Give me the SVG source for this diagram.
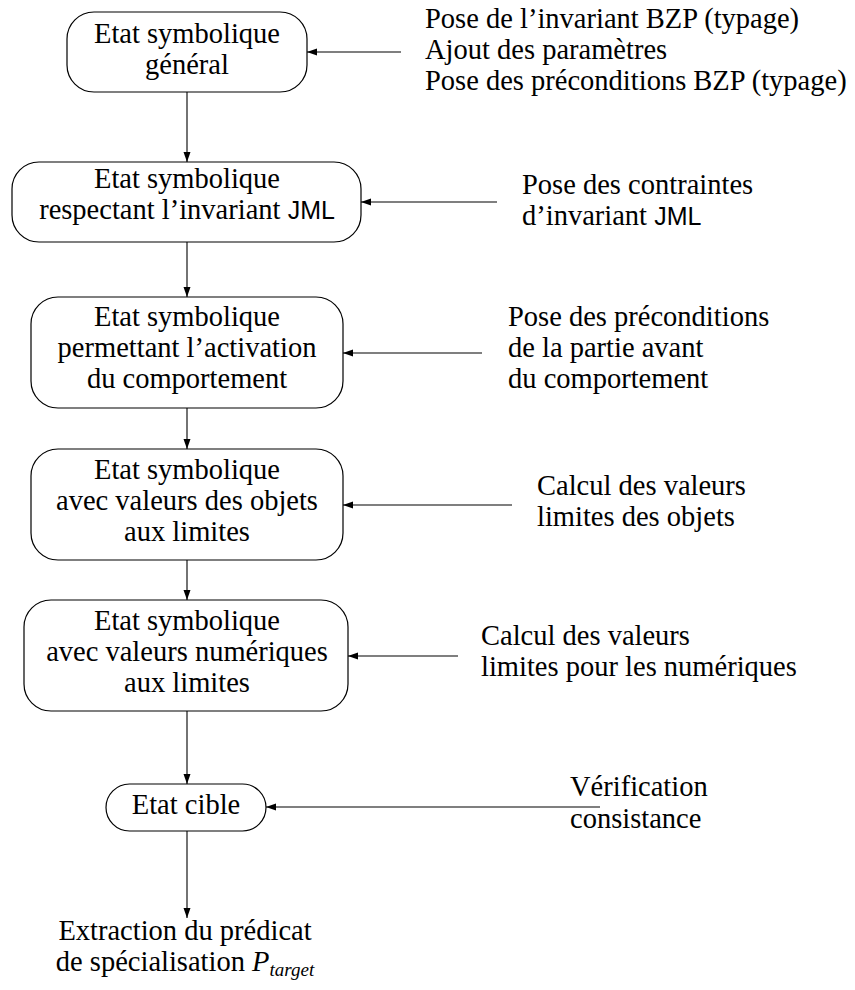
<svg xmlns="http://www.w3.org/2000/svg" width="855" height="990" viewBox="0 0 855 990">
  <defs>
    <marker id="arrow" markerUnits="userSpaceOnUse" markerWidth="12" markerHeight="10" refX="10" refY="4" orient="auto">
      <path d="M0,0.5 L10,4 L0,7.5 Z" fill="#000"/>
    </marker>
    <style>
      .t { font-family: 'Liberation Serif', 'DejaVu Serif', serif; font-size: 28.5px; fill: #000; }
      .c { text-anchor: middle; }
      .sans { font-family: 'Liberation Sans', 'DejaVu Sans', sans-serif; font-size: 25px; }
      .box { fill: #fff; stroke: #000; stroke-width: 1.2; }
      .link { stroke: #000; stroke-width: 1.1; fill: none; marker-end: url(#arrow); }
    </style>
  </defs>

  <rect width="855" height="990" fill="#fff"/>

  <!-- connectors: main chain and incoming steps -->
  <g id="connectors">
    <line class="link" x1="187" y1="92" x2="187" y2="162"/>
    <line class="link" x1="187" y1="242" x2="187" y2="297"/>
    <line class="link" x1="187" y1="408" x2="187" y2="449"/>
    <line class="link" x1="187" y1="560" x2="187" y2="600"/>
    <line class="link" x1="187" y1="711" x2="187" y2="784"/>
    <line class="link" x1="187" y1="831" x2="187" y2="918"/>

    <line class="link" x1="401" y1="52" x2="307" y2="52"/>
    <line class="link" x1="497" y1="202" x2="361" y2="202"/>
    <line class="link" x1="482" y1="353" x2="343" y2="353"/>
    <line class="link" x1="512" y1="505" x2="343" y2="505"/>
    <line class="link" x1="458" y1="656" x2="348" y2="656"/>
    <line class="link" x1="600" y1="807" x2="266" y2="807"/>
  </g>

  <g id="etat-general" class="t" font-family="Liberation Serif, DejaVu Serif, serif">
    <rect class="box" x="67" y="12" width="240" height="80" rx="27" ry="27"/>
    <text class="c" x="187" y="43">Etat symbolique</text>
    <text class="c" x="187" y="74">général</text>
  </g>

  <g id="etat-invariant" class="t" font-family="Liberation Serif, DejaVu Serif, serif">
    <rect class="box" x="12" y="162" width="349" height="80" rx="27" ry="27"/>
    <text class="c" x="187" y="188">Etat symbolique</text>
    <text class="c" x="187" y="219">respectant l’invariant <tspan class="sans">JML</tspan></text>
  </g>

  <g id="etat-activation" class="t" font-family="Liberation Serif, DejaVu Serif, serif">
    <rect class="box" x="31" y="297" width="312" height="111" rx="27" ry="27"/>
    <text class="c" x="187" y="326">Etat symbolique</text>
    <text class="c" x="187" y="357">permettant l’activation</text>
    <text class="c" x="187" y="388">du comportement</text>
  </g>

  <g id="etat-objets" class="t" font-family="Liberation Serif, DejaVu Serif, serif">
    <rect class="box" x="31" y="449" width="312" height="111" rx="27" ry="27"/>
    <text class="c" x="187" y="479">Etat symbolique</text>
    <text class="c" x="187" y="510">avec valeurs des objets</text>
    <text class="c" x="187" y="541">aux limites</text>
  </g>

  <g id="etat-numeriques" class="t" font-family="Liberation Serif, DejaVu Serif, serif">
    <rect class="box" x="24" y="600" width="324" height="111" rx="27" ry="27"/>
    <text class="c" x="187" y="630">Etat symbolique</text>
    <text class="c" x="187" y="661">avec valeurs numériques</text>
    <text class="c" x="187" y="692">aux limites</text>
  </g>

  <g id="etat-cible" class="t" font-family="Liberation Serif, DejaVu Serif, serif">
    <rect class="box" x="106" y="784" width="160" height="47" rx="23.5" ry="23.5"/>
    <text class="c" x="186" y="814">Etat cible</text>
  </g>

  <g id="extraction" class="t" font-family="Liberation Serif, DejaVu Serif, serif">
    <text class="c" x="185" y="940">Extraction du prédicat</text>
    <text class="c" x="185" y="971">de spécialisation <tspan font-style="italic">P</tspan><tspan font-style="italic" font-size="19" dy="5">target</tspan></text>
  </g>

  <!-- step labels on the right -->
  <g id="step-typage" class="t" font-family="Liberation Serif, DejaVu Serif, serif">
    <text x="425" y="28">Pose de l’invariant BZP (typage)</text>
    <text x="425" y="59">Ajout des paramètres</text>
    <text x="425" y="90">Pose des préconditions BZP (typage)</text>
  </g>
  <g id="step-invariant" class="t" font-family="Liberation Serif, DejaVu Serif, serif">
    <text x="522" y="194">Pose des contraintes</text>
    <text x="522" y="225">d’invariant <tspan class="sans">JML</tspan></text>
  </g>
  <g id="step-preconditions" class="t" font-family="Liberation Serif, DejaVu Serif, serif">
    <text x="508" y="326">Pose des préconditions</text>
    <text x="508" y="357">de la partie avant</text>
    <text x="508" y="388">du comportement</text>
  </g>
  <g id="step-objets" class="t" font-family="Liberation Serif, DejaVu Serif, serif">
    <text x="537" y="495">Calcul des valeurs</text>
    <text x="537" y="526">limites des objets</text>
  </g>
  <g id="step-numeriques" class="t" font-family="Liberation Serif, DejaVu Serif, serif">
    <text x="481" y="645">Calcul des valeurs</text>
    <text x="481" y="676">limites pour les numériques</text>
  </g>
  <g id="step-consistance" class="t" font-family="Liberation Serif, DejaVu Serif, serif">
    <text x="570" y="796">Vérification</text>
    <text x="570" y="828">consistance</text>
  </g>
</svg>
